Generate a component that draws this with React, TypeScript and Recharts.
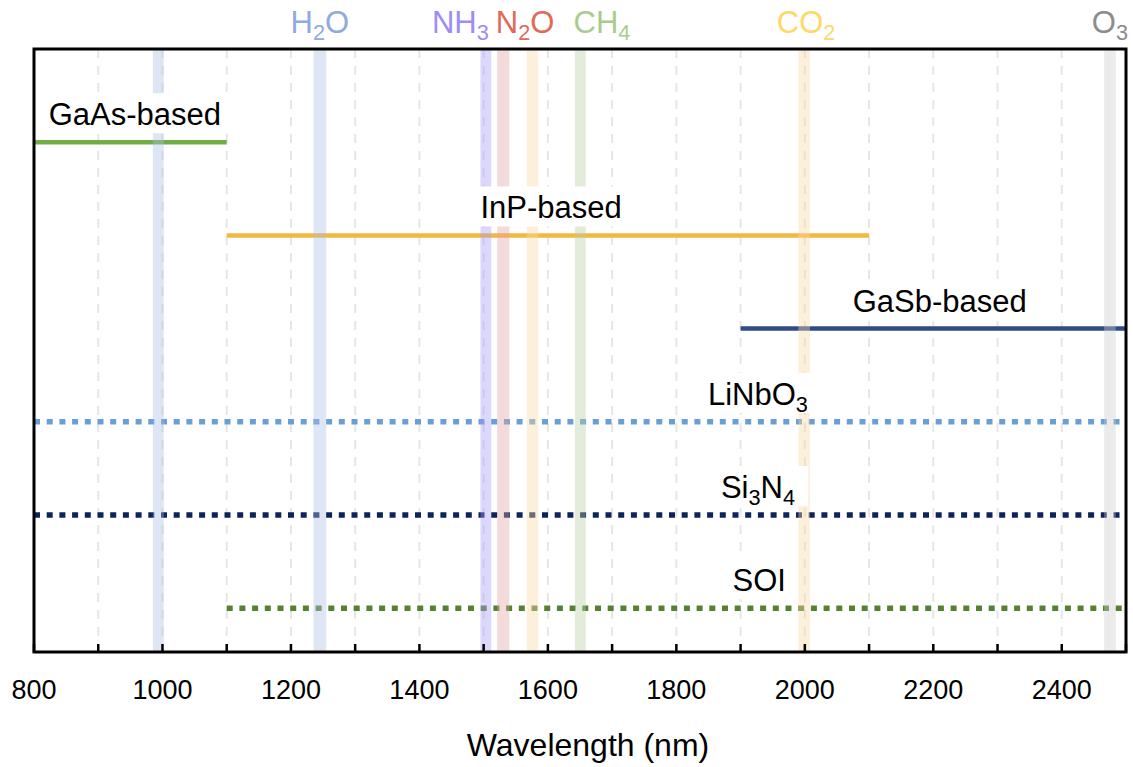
import React from 'react';
import {
  LineChart,
  Line,
  XAxis,
  YAxis,
  CartesianGrid,
  ReferenceArea,
  ReferenceDot
} from 'recharts';

const FONT = '"Liberation Sans", Arial, Helvetica, sans-serif';

// laser / photonic platforms and their wavelength coverage (nm)
const platformNames = ['GaAs-based', 'InP-based', 'GaSb-based', 'LiNbO3', 'Si3N4', 'SOI'];
const platformStart = [800, 1100, 1900, 800, 800, 1100];
const platformEnd = [1100, 2100, 2500, 2500, 2500, 2500];
const platformRow = [6, 5, 4, 3, 2, 1];
const platformLabelAt = [957, 1605, 2210, 1927, 1927, 1929];
const platformColors = ['#70AD47', '#F4B73F', '#2F4C85', '#6A9FD6', '#0D2359', '#548235'];
const platformDotted = [false, false, false, true, true, true];

// gas absorption bands (nm)
const gasNames = ['H2O', 'NH3', 'N2O', 'CH4', 'CO2', 'O3'];
const gasColors = ['#8FAADC', '#9D8DF7', '#E06A5A', '#A9CC8E', '#FFD966', '#8C8C8C'];
const gasBandColors = ['#ACBEE3', '#A79DF7', '#DEA5A2', '#B9CDA2', '#FAD9A2', '#CDCDCD'];
const bandGas = [0, 0, 1, 2, 4, 3, 4, 5];
const bandFrom = [985, 1235, 1495, 1521, 1567, 1642, 1990, 2466];
const bandTo = [1002, 1255, 1512, 1540, 1585, 1659, 2008, 2484];
const gasLabelAt = [1245, 1508, 1519, 1640, 2002, 2475];
const gasLabelAnchor = ['middle', 'end', 'start', 'start', 'middle', 'middle'];

const xTicks = [800, 900, 1000, 1100, 1200, 1300, 1400, 1500, 1600, 1700, 1800, 1900, 2000, 2100, 2200, 2300, 2400, 2500];

const LABEL_SIZE = 31;

// chemical formula with subscript digits
const formula = (s: string, fs: number) => {
  const parts = s.match(/\d+|\D+/g) || [];
  let shifted = false;
  return parts.map((p, i) => {
    const sub = /^\d+$/.test(p);
    const dy = sub ? (shifted ? 0 : fs * 0.24) : shifted ? -fs * 0.24 : 0;
    shifted = sub;
    return (
      <tspan key={i} fontSize={sub ? fs * 0.7 : fs} dy={dy}>
        {p}
      </tspan>
    );
  });
};

let ctx: CanvasRenderingContext2D | null = null;
const measure = (s: string, fs: number) => {
  if (!ctx) ctx = document.createElement('canvas').getContext('2d');
  if (!ctx) return s.length * fs * 0.55;
  ctx.font = `${fs}px "Liberation Sans"`;
  return ctx.measureText(s).width;
};

const PlatformLabel = (props: any) => {
  const { cx, cy, text } = props;
  const w = measure(text, LABEL_SIZE) + 16;
  return (
    <g>
      <rect x={cx - w / 2} y={cy - 21} width={w} height={40} fill="#fff" />
      <text x={cx} y={cy + 11} textAnchor="middle" fontSize={LABEL_SIZE} fontFamily={FONT} fill="#000">
        {formula(text, LABEL_SIZE)}
      </text>
    </g>
  );
};

const GasLabel = (props: any) => {
  const { cx, cy, text, color, anchor } = props;
  return (
    <text x={cx} y={cy - 16} textAnchor={anchor} fontSize={31} fontFamily={FONT} fill={color}>
      {formula(text, 31)}
    </text>
  );
};

const Tick = (props: any) => {
  const { x, y, payload } = props;
  const v = payload.value;
  return (
    <g>
      <line x1={x} x2={x} y1={y} y2={y - 8} stroke="#000" strokeWidth={2.5} />
      {v % 200 === 0 && v < 2500 && (
        <text x={x} y={y + 47} textAnchor="middle" fontSize={27} fontFamily={FONT} fill="#000">
          {v}
        </text>
      )}
    </g>
  );
};

const AxisTitle = (props: any) => {
  const { viewBox } = props;
  return (
    <text
      x={viewBox.x + viewBox.width / 2 + 8}
      y={viewBox.y + 104}
      textAnchor="middle"
      fontSize={32}
      fontFamily={FONT}
      fill="#000"
    >
      Wavelength (nm)
    </text>
  );
};

export default function App() {
  return (
    <div style={{ position: 'absolute', left: 0, top: 0, fontFamily: FONT, background: '#fff' }}>
      <LineChart width={1133} height={767} margin={{ top: 49, right: 7, bottom: 0, left: 34 }}>
        <CartesianGrid horizontal={false} stroke="#E6E6E6" strokeWidth={2} strokeDasharray="9 8" />
        <XAxis
          type="number"
          dataKey="x"
          domain={[800, 2500]}
          ticks={xTicks}
          interval={0}
          height={115}
          axisLine={false}
          tickLine={false}
          tickSize={0}
          tickMargin={0}
          tick={<Tick />}
          label={<AxisTitle />}
        />
        <YAxis type="number" domain={[0.53, 7]} hide />
        {platformNames.map((name, i) => (
          <Line
            key={name}
            data={[
              { x: platformStart[i], y: platformRow[i] },
              { x: platformEnd[i], y: platformRow[i] }
            ]}
            dataKey="y"
            stroke={platformColors[i]}
            strokeWidth={platformDotted[i] ? 5.5 : 4.5}
            strokeDasharray={platformDotted[i] ? '6 6.7' : undefined}
            dot={false}
            activeDot={false}
            isAnimationActive={false}
          />
        ))}
        {bandFrom.map((from, i) => (
          <ReferenceArea
            key={`band-${i}`}
            x1={from}
            x2={bandTo[i]}
            fill={gasBandColors[bandGas[i]]}
            fillOpacity={0.4}
            stroke="none"
            zIndex={450}
          />
        ))}
        {platformNames.map((name, i) => (
          <ReferenceDot
            key={`pl-${name}`}
            x={platformLabelAt[i]}
            y={platformRow[i] + 0.3}
            r={0}
            zIndex={460}
            shape={(p: any) => <PlatformLabel {...p} text={name} />}
          />
        ))}
        <ReferenceArea
          x1={800}
          x2={2500}
          y1={0.53}
          y2={7}
          fill="none"
          stroke="#000"
          strokeWidth={3}
          zIndex={480}
        />
        {gasNames.map((name, i) => (
          <ReferenceDot
            key={`gas-${name}`}
            x={gasLabelAt[i]}
            y={7}
            r={0}
            ifOverflow="visible"
            zIndex={490}
            shape={(p: any) => (
              <GasLabel {...p} text={name} color={gasColors[i]} anchor={gasLabelAnchor[i]} />
            )}
          />
        ))}
      </LineChart>
    </div>
  );
}
